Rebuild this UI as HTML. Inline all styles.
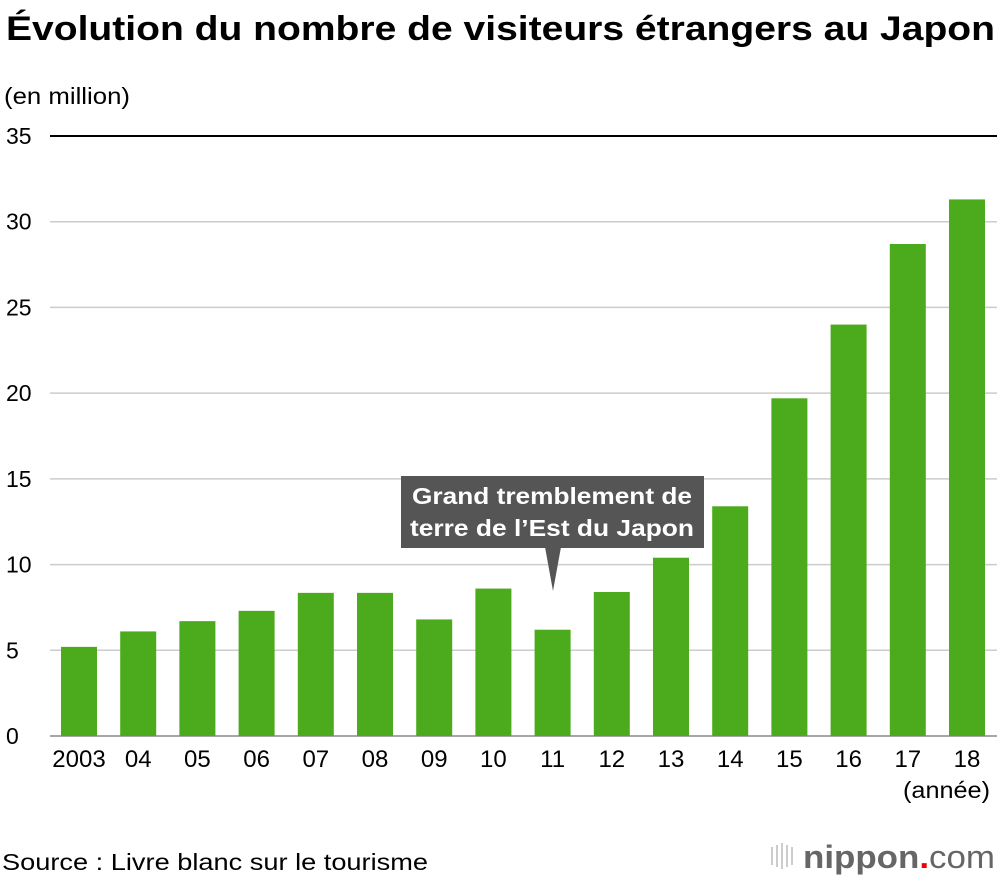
<!DOCTYPE html>
<html><head><meta charset="utf-8"><style>
body{margin:0;width:1000px;height:880px;background:#fff;font-family:"Liberation Sans",sans-serif;overflow:hidden}
</style></head><body>
<svg id="c" width="1000" height="880">
<text x="6" y="40" font-size="34" font-weight="bold" fill="#000" textLength="989" lengthAdjust="spacingAndGlyphs">Évolution du nombre de visiteurs étrangers au Japon</text>
<text x="4" y="104" font-size="23" fill="#000" textLength="126" lengthAdjust="spacingAndGlyphs">(en million)</text>
<g id="grid"></g><g id="bars"></g><g id="xl"></g>
<text x="903" y="798" font-size="23" textLength="87" lengthAdjust="spacingAndGlyphs">(année)</text>
<g>
<rect x="401" y="476" width="303" height="72" fill="#555"/>
<polygon points="545,547 561,547 553,591" fill="#555"/>
<text x="412" y="504" font-size="23" font-weight="bold" fill="#fff" textLength="280" lengthAdjust="spacingAndGlyphs">Grand tremblement de</text>
<text x="410" y="536" font-size="23" font-weight="bold" fill="#fff" textLength="284" lengthAdjust="spacingAndGlyphs">terre de l’Est du Japon</text>
</g>
<text x="2" y="870" font-size="23" textLength="426" lengthAdjust="spacingAndGlyphs">Source : Livre blanc sur le tourisme</text>
<g>
<rect x="771" y="847" width="2" height="18" fill="#ccc"/><rect x="776" y="845" width="2" height="22" fill="#ccc"/><rect x="781" y="843" width="2" height="26" fill="#ccc"/><rect x="786" y="845" width="2" height="22" fill="#ccc"/><rect x="791" y="847" width="2" height="18" fill="#ccc"/>
<text x="803" y="868" font-size="32" font-weight="bold" fill="#666" textLength="192" lengthAdjust="spacingAndGlyphs">nippon<tspan fill="#e00">.</tspan><tspan font-weight="normal">com</tspan></text>
</g>
</svg>
<script>
const years=["2003","04","05","06","07","08","09","10","11","12","13","14","15","16","17","18"];
const visitors=[5.2,6.1,6.7,7.3,8.35,8.35,6.8,8.6,6.2,8.4,10.4,13.4,19.7,24.0,28.7,31.3];
const ticks=[0,5,10,15,20,25,30,35];
const ns="http://www.w3.org/2000/svg";
const y=v=>736-v*600/35;
const x=i=>61+i*59.2;
function mk(t,a,p){const e=document.createElementNS(ns,t);for(const k in a)e.setAttribute(k,a[k]);p.appendChild(e);return e;}
const g=document.getElementById('grid');
ticks.forEach(t=>{
 const l=mk('line',{x1:50,x2:997,y1:y(t),y2:y(t),stroke:t==35?'#000':(t==0?'#888':'#ccc'),'stroke-width':t==35?2:1.5},g);
 
 
 const tx=mk('text',{x:6,y:y(t)+8,'font-size':23},g);tx.textContent=t;
 
 
});
const b=document.getElementById('bars'),xl=document.getElementById('xl');
visitors.forEach((v,i)=>{
 const r=mk('rect',{x:x(i),y:y(v),width:36,height:736-y(v),fill:'#4cab1c'},b);
 
 
 const t=mk('text',{x:x(i)+18,y:767,'font-size':24,'text-anchor':'middle'},xl);t.textContent=years[i];
 
 
});
</script>
</body></html>
